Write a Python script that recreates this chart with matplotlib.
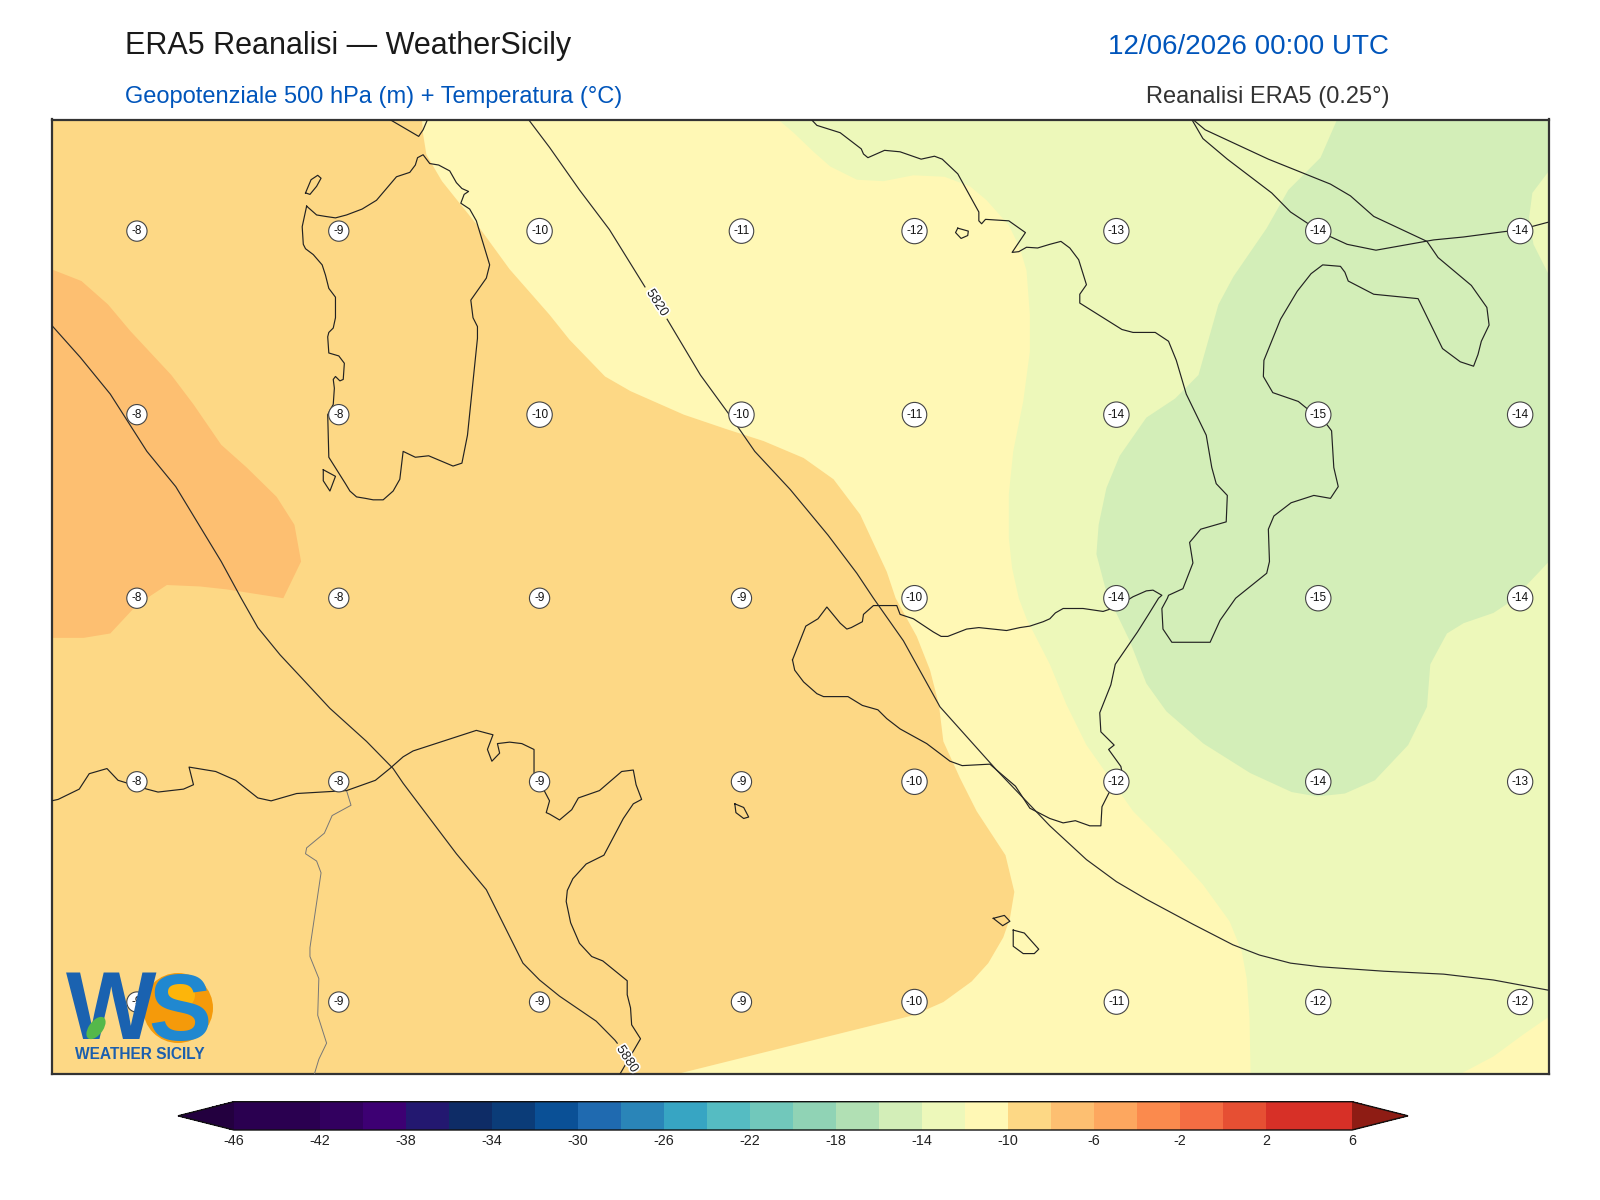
import numpy as np
import matplotlib
matplotlib.use("Agg")
import matplotlib.pyplot as plt
import matplotlib.patheffects as pe
from matplotlib.colors import ListedColormap, BoundaryNorm
from matplotlib.cm import ScalarMappable
from matplotlib.patches import Ellipse

plt.rcParams['font.family'] = ['Liberation Sans', 'DejaVu Sans']
plt.rcParams['axes.unicode_minus'] = False

# ---------- text ----------
TITLE = "ERA5 Reanalisi — WeatherSicily"
SUBTITLE = "Geopotenziale 500 hPa (m) + Temperatura (°C)"
DATE = "12/06/2026 00:00 UTC"
SOURCE = "Reanalisi ERA5 (0.25°)"

# ---------- map extent ----------
LON_MIN, LON_MAX = 6.0, 19.5
LAT_MIN, LAT_MAX = 35.0, 41.5

# ---------- colour scale ----------
cbar_levels = [-46, -42, -40, -38, -36, -34, -32, -30, -28, -26, -24, -22, -20,
               -18, -16, -14, -12, -10, -8, -6, -4, -2, 0, 2, 6]
cbar_colors = ['#2A0050', '#32005F', '#3D0073', '#231870', '#0E2C66', '#0B3C78',
               '#0A5096', '#1F6AB0', '#2A85B8', '#37A5C3', '#55BCC2', '#71C8BB',
               '#90D3B5', '#B1E0B4', '#D3EEB8', '#EDF8BA', '#FFF8B5', '#FDD885',
               '#FDBF71', '#FDA75F', '#FB8A4D', '#F46D43', '#E64F33', '#D73027']
cbar_under = '#23003F'
cbar_over = '#8E1C14'
cbar_ticks = [-46, -42, -38, -34, -30, -26, -22, -18, -14, -10, -6, -2, 2, 6]

# ---------- temperature bands (lon/lat outlines) ----------
band_m12_color = '#FFF8B5'   # -12..-10, fills the whole map underneath
band_m10_lon = [9.34, 9.35, 9.38, 9.52, 9.70, 9.86, 10.13, 10.49, 10.67, 10.99, 11.22, 11.70,
                12.09, 12.42, 12.78, 13.05, 13.29, 13.53, 13.61, 13.80, 13.92, 14.00, 14.04,
                14.19, 14.34, 14.60, 14.68, 14.64, 14.58, 14.445, 14.295, 14.04, 13.77, 11.64,
                6.0, 6.0]
band_m10_lat = [41.50, 41.40, 41.26, 41.08, 40.91, 40.76, 40.48, 40.17, 40.00, 39.75, 39.65, 39.49,
                39.39, 39.31, 39.195, 39.05, 38.81, 38.42, 38.24, 37.98, 37.75, 37.515, 37.265,
                37.015, 36.79, 36.49, 36.24, 36.06, 35.93, 35.755, 35.63, 35.49, 35.40, 35.00,
                35.0, 41.5]
band_m8_lon = [6.00, 6.27, 6.51, 6.71, 7.08, 7.28, 7.53, 7.76, 8.03, 8.19, 8.25, 8.09, 7.58,
               7.34, 7.04, 6.86, 6.74, 6.53, 6.29, 6.00]
band_m8_lat = [40.48, 40.40, 40.24, 40.06, 39.76, 39.56, 39.285, 39.13, 38.93, 38.74, 38.49, 38.24, 38.30,
               38.32, 38.33, 38.24, 38.17, 38.00, 37.97, 37.97]
band_m14_lon = [12.55, 12.69, 12.87, 13.02, 13.26, 13.50, 13.77, 14.05, 14.28, 14.43, 14.63, 14.73,
                14.79, 14.82, 14.82, 14.76, 14.67, 14.63, 14.63, 14.66, 14.72, 14.79, 15.00, 15.15,
                15.33, 15.75, 16.08, 16.38, 16.62, 16.73, 16.775, 16.80, 16.81, 18.70, 19.00, 19.27,
                19.50, 19.50]
band_m14_lat = [41.50, 41.41, 41.28, 41.18, 41.09, 41.08, 41.12, 41.11, 41.045, 40.95, 40.78, 40.625,
                40.47, 40.17, 39.92, 39.58, 39.24, 38.945, 38.65, 38.445, 38.24, 38.10, 37.79, 37.515,
                37.24, 36.79, 36.54, 36.29, 36.04, 35.835, 35.65, 35.38, 35.00, 35.00, 35.12, 35.27,
                35.39, 41.5]
band_m16_lon = [17.59, 17.44, 17.15, 16.955, 16.655, 16.52, 16.34, 16.13, 15.87, 15.63, 15.51, 15.44,
                15.42, 15.50, 15.56, 15.72, 15.87, 16.05, 16.385, 16.805, 17.18, 17.41, 17.66, 17.93,
                18.23, 18.40, 18.43, 18.58, 18.73, 19.00, 19.18, 19.30, 19.50, 19.50, 19.36, 19.32,
                19.35, 19.50, 19.50]
band_m16_lat = [41.50, 41.24, 41.02, 40.76, 40.43, 40.24, 39.76, 39.60, 39.47, 39.21, 38.99, 38.74,
                38.54, 38.31, 38.20, 37.95, 37.66, 37.47, 37.25, 37.05, 36.92, 36.89, 36.91, 37.00,
                37.24, 37.50, 37.79, 38.00, 38.07, 38.14, 38.23, 38.33, 38.49, 40.44, 40.65, 40.83,
                41.00, 41.15, 41.50]

# ---------- coastlines ----------
corsica_lon = [9.05, 9.31, 9.35, 9.39]
corsica_lat = [41.50, 41.385, 41.43, 41.50]
asinara_lon = [8.29, 8.34, 8.40, 8.43, 8.39, 8.33, 8.29]
asinara_lat = [41.00, 41.09, 41.12, 41.10, 41.045, 40.99, 41.00]
sardinia_lon = [8.30, 8.39, 8.47, 8.56, 8.66, 8.80, 8.93, 9.11, 9.23, 9.28, 9.30, 9.35, 9.41, 9.49, 9.59,
                9.65, 9.70, 9.76, 9.72, 9.69, 9.77, 9.83, 9.95, 9.92, 9.78, 9.80, 9.84, 9.84, 9.75, 9.70,
                9.62, 9.40, 9.28, 9.17, 9.14, 9.08, 8.99, 8.90, 8.83, 8.75, 8.69, 8.65, 8.50, 8.49, 8.54,
                8.55, 8.54, 8.56, 8.60, 8.63, 8.64, 8.59, 8.50, 8.49, 8.50, 8.54, 8.56, 8.56, 8.50, 8.47,
                8.44, 8.36, 8.29, 8.27, 8.26, 8.28, 8.30]
sardinia_lat = [40.91, 40.85, 40.84, 40.83, 40.85, 40.89, 40.95, 41.11, 41.14, 41.19, 41.24, 41.26, 41.20, 41.19, 41.15,
                41.07, 41.03, 41.01, 40.99, 40.93, 40.89, 40.81, 40.51, 40.42, 40.27, 40.15, 40.09, 40.01, 39.35, 39.16,
                39.14, 39.21, 39.20, 39.24, 39.05, 38.97, 38.91, 38.91, 38.92, 38.93, 38.97, 39.02, 39.20, 39.49, 39.56,
                39.67, 39.73, 39.75, 39.72, 39.73, 39.84, 39.89, 39.91, 40.02, 40.05, 40.08, 40.15, 40.29, 40.35, 40.44,
                40.51, 40.58, 40.62, 40.65, 40.77, 40.84, 40.91]
antioco_lon = [8.45, 8.56, 8.51, 8.45, 8.45]
antioco_lat = [39.115, 39.07, 38.97, 39.04, 39.115]
ustica_lon = [14.17, 14.265, 14.26, 14.20, 14.15, 14.17]
ustica_lat = [40.76, 40.74, 40.71, 40.69, 40.73, 40.76]
pantelleria_lon = [12.16, 12.24, 12.285, 12.24, 12.17, 12.16]
pantelleria_lat = [36.84, 36.815, 36.75, 36.74, 36.78, 36.84]
gozo_lon = [14.49, 14.59, 14.64, 14.575, 14.49]
gozo_lat = [36.06, 36.08, 36.04, 36.01, 36.06]
malta_lon = [14.67, 14.77, 14.90, 14.86, 14.76, 14.67, 14.67]
malta_lat = [35.98, 35.96, 35.85, 35.82, 35.82, 35.87, 35.98]
sicily_lon = [12.68, 12.80, 12.91, 12.99, 13.11, 13.17, 13.21, 13.31, 13.32, 13.41, 13.50, 13.62, 13.65, 13.77,
              13.95, 14.02, 14.08, 14.25, 14.36, 14.61, 14.73, 14.82, 14.94, 15.00, 15.05, 15.12, 15.30, 15.48,
              15.60, 15.75, 15.87, 15.93, 16.01, 15.98, 15.89, 15.79, 15.59, 15.55, 15.45, 15.46, 15.58, 15.53,
              15.64, 15.65, 15.53, 15.47, 15.46, 15.36, 15.23, 15.12, 15.00, 14.82, 14.69, 14.52, 14.46, 14.21,
              14.10, 13.89, 13.65, 13.53, 13.45, 13.31, 13.18, 12.96, 12.90, 12.78, 12.70, 12.68]
sicily_lat = [37.82, 38.05, 38.10, 38.18, 38.07, 38.03, 38.04, 38.08, 38.13, 38.19, 38.19, 38.19, 38.13, 38.10,
              38.01, 37.98, 37.98, 38.03, 38.04, 38.02, 38.04, 38.05, 38.08, 38.10, 38.14, 38.17, 38.17, 38.15,
              38.18, 38.25, 38.29, 38.295, 38.26, 38.24, 38.13, 38.01, 37.79, 37.65, 37.46, 37.33, 37.24, 37.21,
              37.095, 37.06, 36.91, 36.82, 36.69, 36.69, 36.725, 36.71, 36.74, 36.81, 36.96, 37.07, 37.11, 37.10,
              37.13, 37.25, 37.35, 37.42, 37.48, 37.51, 37.57, 37.57, 37.59, 37.67, 37.75, 37.82]
africa_lon = [6.00, 6.06, 6.25, 6.34, 6.50, 6.60, 6.86, 6.96, 7.19, 7.28, 7.24, 7.48, 7.66, 7.86, 7.98, 8.21,
              8.66, 8.92, 9.05, 9.17, 9.26, 9.83, 9.98, 9.93, 9.97, 10.04, 10.02, 10.13, 10.24, 10.35, 10.35,
              10.40, 10.49, 10.46, 10.49, 10.58, 10.69, 10.75, 10.94, 11.14, 11.245, 11.27, 11.32, 11.245,
              11.155, 10.98, 10.82, 10.70, 10.65, 10.64, 10.68, 10.76, 10.87, 10.97, 11.19, 11.19, 11.22,
              11.23, 11.31, 11.125]
africa_lat = [36.86, 36.87, 36.94, 37.045, 37.08, 37.00, 36.94, 36.92, 36.94, 36.97, 37.09, 37.06, 37.00, 36.88, 36.86, 36.91,
              36.93, 37.00, 37.08, 37.16, 37.20, 37.34, 37.31, 37.21, 37.13, 37.185, 37.25, 37.26, 37.25, 37.21, 37.05,
              36.99, 36.86, 36.78, 36.77, 36.73, 36.80, 36.88, 36.93, 37.06, 37.07, 36.97, 36.87, 36.84,
              36.74, 36.49, 36.43, 36.33, 36.25, 36.175, 36.03, 35.89, 35.80, 35.77, 35.635, 35.54, 35.45,
              35.335, 35.24, 35.00]
border_lon = [8.66, 8.70, 8.53, 8.46, 8.30, 8.29, 8.39, 8.43, 8.33, 8.33, 8.41, 8.40, 8.48, 8.41, 8.37]
border_lat = [36.93, 36.83, 36.76, 36.64, 36.54, 36.50, 36.45, 36.37, 35.86, 35.80, 35.65, 35.40, 35.21, 35.10, 35.00]
italy_lon = [12.85, 12.90, 13.11, 13.30, 13.32, 13.36, 13.51, 13.65, 13.84, 13.96, 14.03, 14.17, 14.36, 14.36, 14.385,
             14.42, 14.63, 14.78, 14.66, 14.72, 14.79, 14.89, 15.00, 15.10, 15.18, 15.26, 15.33, 15.27, 15.27, 15.65,
             15.75, 15.95, 16.07, 16.14, 16.23, 16.41, 16.46, 16.50, 16.60, 16.59, 16.36, 16.26, 16.29, 16.20, 16.07,
             16.06, 16.01, 16.02, 16.10, 16.445, 16.535, 16.675, 16.955, 16.98, 16.97, 17.02, 17.175, 17.38, 17.53,
             17.60, 17.56, 17.54, 17.50, 17.24, 17.01, 16.925, 16.93, 17.08, 17.23, 17.355, 17.46, 17.62, 17.66, 17.69,
             17.92, 18.32, 18.54, 18.70, 18.82, 18.86, 18.89, 18.96, 18.94, 18.80, 18.50, 18.40, 17.92, 17.71, 17.53,
             16.97, 16.40, 16.29]
italy_lat = [41.50, 41.46, 41.41, 41.30, 41.265, 41.24, 41.29, 41.28, 41.23, 41.25, 41.23, 41.13, 40.87, 40.81, 40.79,
             40.82, 40.81, 40.73, 40.595, 40.60, 40.63, 40.625, 40.65, 40.67, 40.625, 40.545, 40.375, 40.31, 40.25, 40.07,
             40.05, 40.05, 39.99, 39.86, 39.63, 39.35, 39.13, 39.02, 38.94, 38.76, 38.71, 38.62, 38.48, 38.305, 38.26,
             38.24, 38.17, 38.03, 37.94, 37.94, 38.09, 38.24, 38.41, 38.49, 38.71, 38.80, 38.89, 38.94, 38.92,
             39.00, 39.13, 39.38, 39.42, 39.58, 39.64, 39.75, 39.86, 40.14, 40.33, 40.45, 40.51, 40.50, 40.46, 40.40,
             40.31, 40.28, 39.94, 39.85, 39.82, 39.90, 39.99, 40.10, 40.22, 40.37, 40.56, 40.67, 40.84, 40.98, 41.06,
             41.23, 41.43, 41.50]
adriatic_lon = [16.28, 16.38, 16.60, 17.00, 17.17, 17.32, 17.42, 17.68, 17.94, 18.46, 18.73, 19.03, 19.24, 19.49]
adriatic_lat = [41.50, 41.37, 41.23, 41.00, 40.87, 40.795, 40.74, 40.65, 40.61, 40.68, 40.70, 40.73, 40.75, 40.80]

# ---------- geopotential isolines ----------
z5820_lon = [10.30, 10.49, 10.76, 11.03, 11.35, np.nan, 11.55, 11.85, 12.12, 12.34, 12.66, 13.00, 13.26, 13.41, 13.68,
             14.01, 14.52, 14.76, 15.00, 15.33, 15.60, 15.87, 16.29, 16.65, 16.89, 17.17, 17.44, 18.01, 18.55, 19.00, 19.50]
z5820_lat = [41.50, 41.31, 41.02, 40.75, 40.36, np.nan, 40.14, 39.76, 39.48, 39.24, 38.98, 38.67, 38.41, 38.24, 37.95,
             37.50, 37.07, 36.88, 36.69, 36.46, 36.31, 36.19, 36.02, 35.88, 35.81, 35.755, 35.73, 35.70, 35.68, 35.64, 35.57]
z5880_lon = [6.00, 6.26, 6.53, 6.86, 7.12, 7.53, 7.71, 7.86, 8.06, 8.27, 8.51, 8.84, 9.08, 9.17, 9.41, 9.65, 9.92,
             10.25, 10.40, 10.49, 10.58, 10.91, 11.08, 11.10]
z5880_lat = [40.10, 39.88, 39.63, 39.24, 39.00, 38.49, 38.24, 38.04, 37.855, 37.685, 37.49, 37.265, 37.08, 36.98, 36.74, 36.50, 36.255,
             35.755, 35.64, 35.585, 35.53, 35.36, 35.23, 35.21]
z_labels = ['5820', '5880']
z_label_lon = [11.46, 11.19]
z_label_lat = [40.25, 35.10]

# ---------- temperature labels ----------
label_lons = [6.77, 8.59, 10.40, 12.22, 13.78, 15.60, 17.42, 19.24]
label_lats = [40.74, 39.49, 38.24, 36.99, 35.49]
label_values = [
    [-8, -9, -10, -11, -12, -13, -14, -14],
    [-8, -8, -10, -10, -11, -14, -15, -14],
    [-8, -8, -9, -9, -10, -14, -15, -14],
    [-8, -8, -9, -9, -10, -12, -14, -13],
    [-9, -9, -9, -9, -10, -11, -12, -12],
]

W, H = 1600, 1200
fig = plt.figure(figsize=(W / 100, H / 100), dpi=100, facecolor='white')
ax = fig.add_axes([51.5 / W, 1 - 1074 / H, 1497.5 / W, 954.5 / H])
ax.set_xlim(LON_MIN, LON_MAX)
ax.set_ylim(LAT_MIN, LAT_MAX)
ax.set_xticks([])
ax.set_yticks([])
ax.set_facecolor(band_m12_color)
for s in ax.spines.values():
    s.set_linewidth(1.6)
    s.set_color('#333333')

ax.fill(band_m10_lon, band_m10_lat, color='#FDD885', lw=0, zorder=1)
ax.fill(band_m8_lon, band_m8_lat, color='#FDBF71', lw=0, zorder=1.1)
ax.fill(band_m14_lon, band_m14_lat, color='#EDF8BA', lw=0, zorder=1.2)
ax.fill(band_m16_lon, band_m16_lat, color='#D3EEB8', lw=0, zorder=1.3)

coast = dict(color='#222222', lw=0.85, zorder=3, solid_joinstyle='round')
for lon, lat in [(corsica_lon, corsica_lat), (asinara_lon, asinara_lat), (sardinia_lon, sardinia_lat),
                 (antioco_lon, antioco_lat), (ustica_lon, ustica_lat), (pantelleria_lon, pantelleria_lat),
                 (gozo_lon, gozo_lat), (malta_lon, malta_lat), (sicily_lon, sicily_lat), (africa_lon, africa_lat),
                 (italy_lon, italy_lat), (adriatic_lon, adriatic_lat)]:
    ax.plot(lon, lat, **coast)
ax.plot(border_lon, border_lat, color='#777777', lw=0.7, zorder=2.9)

iso = dict(color='#2a2a2a', lw=0.85, zorder=3)
ax.plot(z5820_lon, z5820_lat, **iso)
ax.plot(z5880_lon, z5880_lat, **iso)
for txt, lo, la in zip(z_labels, z_label_lon, z_label_lat):
    ax.text(lo, la, txt, fontsize=9.5, color='#222222', rotation=-57, rotation_mode='anchor',
            ha='center', va='center', zorder=4, clip_on=True,
            path_effects=[pe.withStroke(linewidth=2.5, foreground='white')])

for j, la in enumerate(label_lats):
    for i, lo in enumerate(label_lons):
        ax.text(lo, la, str(label_values[j][i]), fontsize=8.5, color='#111111', ha='center', va='center',
                zorder=5, bbox=dict(boxstyle='circle,pad=0.35', fc='white', ec='#444444', lw=0.8))

# titles
fig.text(124.5 / W, 1 - 54 / H, TITLE, fontsize=22, color='#1a1a1a', ha='left', va='baseline')
fig.text(124.5 / W, 1 - 103 / H, SUBTITLE, fontsize=17, color='#0055BB', ha='left', va='baseline')
fig.text(1389 / W, 1 - 54 / H, DATE, fontsize=20, color='#0055BB', ha='right', va='baseline')
fig.text(1389 / W, 1 - 103 / H, SOURCE, fontsize=17, color='#333333', ha='right', va='baseline')

# colour bar (the axes span both pointed ends)
cmap = ListedColormap(cbar_colors)
cmap.set_under(cbar_under)
cmap.set_over(cbar_over)
norm = BoundaryNorm(cbar_levels, cmap.N)
cax = fig.add_axes([178 / W, 1 - 1130 / H, 1230 / W, 28.3 / H])
cb = fig.colorbar(ScalarMappable(norm=norm, cmap=cmap), cax=cax, orientation='horizontal',
                  extend='both', extendfrac=0.05, spacing='proportional', ticks=cbar_ticks)
cb.ax.set_xticklabels([str(t) for t in cbar_ticks])
cb.ax.tick_params(length=0, labelsize=10.4, pad=3, labelcolor='#222222')
cb.ax.minorticks_off()
cb.outline.set_linewidth(1.0)
cb.outline.set_edgecolor('#111111')

# logo overlay
def circle(x, y, w, h, color, z, angle=0):
    fig.add_artist(Ellipse((x / W, 1 - y / H), w / W, h / H, angle=angle, color=color, lw=0,
                           transform=fig.transFigure, zorder=z))

circle(178, 1008, 70, 70, '#F59A0A', 5)
circle(178, 995, 34, 30, '#FDB50A', 5.1)
fig.text(111 / W, 1 - 1039 / H, 'W', fontsize=69, fontweight='bold', color='#1A62B0', ha='center', va='baseline', zorder=6)
fig.text(180 / W, 1 - 1040 / H, 'S', fontsize=68, fontweight='bold', color='#2088D0', ha='center', va='baseline', zorder=6,
         family=['Liberation Sans Narrow', 'Liberation Sans'])
circle(96, 1028, 15, 24, '#55B84A', 7, angle=-25)
fig.text(140 / W, 1 - 1059 / H, 'WEATHER SICILY', fontsize=11.2, fontweight='bold', color='#1B5FAE', ha='center', va='baseline', zorder=6)

fig.savefig('out.png', dpi=100, facecolor='white')
